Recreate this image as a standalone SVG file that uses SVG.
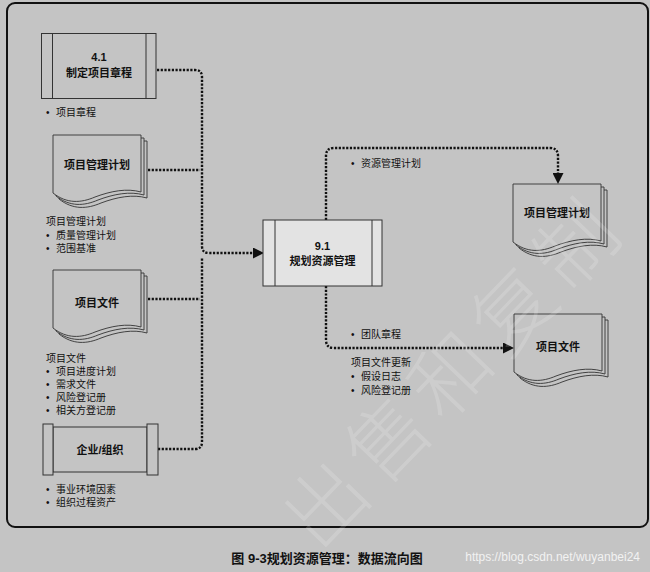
<svg xmlns="http://www.w3.org/2000/svg" width="650" height="572" viewBox="0 0 650 572">
<style>
text{font-family:"Liberation Sans","Noto Sans CJK SC",sans-serif;fill:#111}
.lbl{font-size:10px}
.nt{font-size:11px;text-anchor:middle;font-weight:bold}
.num{font-size:11px;text-anchor:middle;font-weight:bold}
.shape{fill:#c4c4c4;stroke:#333;stroke-width:1}
.page{fill:#c4c4c4;stroke:#333;stroke-width:0.9}
.flow{fill:none;stroke:#111;stroke-width:2.4;stroke-dasharray:2.2 1.5}
</style>
<defs>
<marker id="ah" markerUnits="userSpaceOnUse" markerWidth="11" markerHeight="11" refX="0" refY="5" orient="auto" viewBox="0 0 10 10">
<path d="M0,0 L10,5 L0,10 z" fill="#111"/>
</marker>
<g id="docshape">
<path class="page" d="M6,6 H94 V63 C80,59 64,62 48,68 C34,74 20,75 6,64 Z"/>
<path class="page" d="M3,3 H91 V60 C77,56 61,59 45,65 C31,71 17,72 3,61 Z"/>
<path class="page" d="M0,0 H88 V57 C74,53 58,56 42,62 C28,68 14,69 0,58 Z"/>
</g>
</defs>
<rect x="0" y="0" width="650" height="572" fill="#c4c4c4"/>
<rect x="7" y="3" width="641" height="524" rx="8" fill="#c4c4c4" stroke="#111" stroke-width="2"/>

<g id="connectors">
<path class="flow" d="M157,70 H195 Q202,70 202,77 V246 Q202,253 209,253 H253" marker-end="url(#ah)"/>
<path class="flow" d="M158,449 H195 Q202,449 202,442 V258"/>
<path class="flow" d="M148,170 H200"/>
<path class="flow" d="M148,299 H200"/>
<path class="flow" d="M326,220 V156 Q326,148 334,148 H550 Q558,148 558,156 V173" marker-end="url(#ah)"/>
<path class="flow" d="M326,286 V340 Q326,348 334,348 H503" marker-end="url(#ah)"/>
</g>

<g id="node-4-1">
<rect class="shape" x="41.5" y="33.5" width="114.5" height="65"/>
<line x1="52.5" y1="33.5" x2="52.5" y2="98.5" stroke="#333"/>
<line x1="146" y1="33.5" x2="146" y2="98.5" stroke="#333"/>
<text class="num" x="99" y="61">4.1</text>
<text class="nt" x="99" y="77">制定项目章程</text>
</g>
<text class="lbl" x="46" y="115.5">•<tspan x="56">项目章程</tspan></text>

<g id="doc-pmp-in">
<use href="#docshape" x="53" y="135"/>
<text class="nt" x="97" y="169">项目管理计划</text>
</g>
<text class="lbl" x="46" y="225">项目管理计划</text>
<text class="lbl" x="46" y="238.5">•<tspan x="56">质量管理计划</tspan></text>
<text class="lbl" x="46" y="251.5">•<tspan x="56">范围基准</tspan></text>

<g id="doc-pd-in">
<use href="#docshape" x="53" y="270"/>
<text class="nt" x="97" y="307">项目文件</text>
</g>
<text class="lbl" x="46" y="361.5">项目文件</text>
<text class="lbl" x="46" y="374.5">•<tspan x="56">项目进度计划</tspan></text>
<text class="lbl" x="46" y="388">•<tspan x="56">需求文件</tspan></text>
<text class="lbl" x="46" y="401">•<tspan x="56">风险登记册</tspan></text>
<text class="lbl" x="46" y="414">•<tspan x="56">相关方登记册</tspan></text>

<g id="node-enterprise">
<rect class="shape" x="53" y="427" width="94" height="45"/>
<rect class="shape" x="43" y="424" width="10" height="51"/>
<rect class="shape" x="147" y="424" width="11" height="51"/>
<text class="nt" x="100" y="454">企业/组织</text>
</g>
<text class="lbl" x="46" y="493">•<tspan x="56">事业环境因素</tspan></text>
<text class="lbl" x="46" y="505.5">•<tspan x="56">组织过程资产</tspan></text>

<g id="node-9-1">
<rect x="263" y="220" width="119" height="66" fill="#e3e3e3" stroke="#333"/>
<line x1="275" y1="220" x2="275" y2="286" stroke="#333"/>
<line x1="372" y1="220" x2="372" y2="286" stroke="#333"/>
<text class="num" x="322.5" y="250">9.1</text>
<text class="nt" x="322.5" y="265">规划资源管理</text>
</g>

<text class="lbl" x="351" y="166.5">•<tspan x="361">资源管理计划</tspan></text>
<text class="lbl" x="351" y="337.5">•<tspan x="361">团队章程</tspan></text>
<text class="lbl" x="351" y="366">项目文件更新</text>
<text class="lbl" x="351" y="380">•<tspan x="361">假设日志</tspan></text>
<text class="lbl" x="351" y="393.5">•<tspan x="361">风险登记册</tspan></text>

<g id="doc-pmp-out">
<use href="#docshape" x="513" y="184"/>
<text class="nt" x="557" y="217">项目管理计划</text>
</g>
<g id="doc-pd-out">
<use href="#docshape" x="514" y="314"/>
<text class="nt" x="558" y="351">项目文件</text>
</g>

<text x="327" y="563" style="font-size:13px;font-weight:bold;text-anchor:middle">图 9-3规划资源管理：数据流向图</text>
<text x="640" y="561" style="font-size:12px;text-anchor:end;fill:#f2f2f2">https://blog.csdn.net/wuyanbei24</text>
<text transform="translate(455,372) rotate(-46)" x="0" y="28" style="font-size:80px;font-weight:300;text-anchor:middle;fill:#ffffff;opacity:0.16;letter-spacing:10px">出售和复制</text>
</svg>
